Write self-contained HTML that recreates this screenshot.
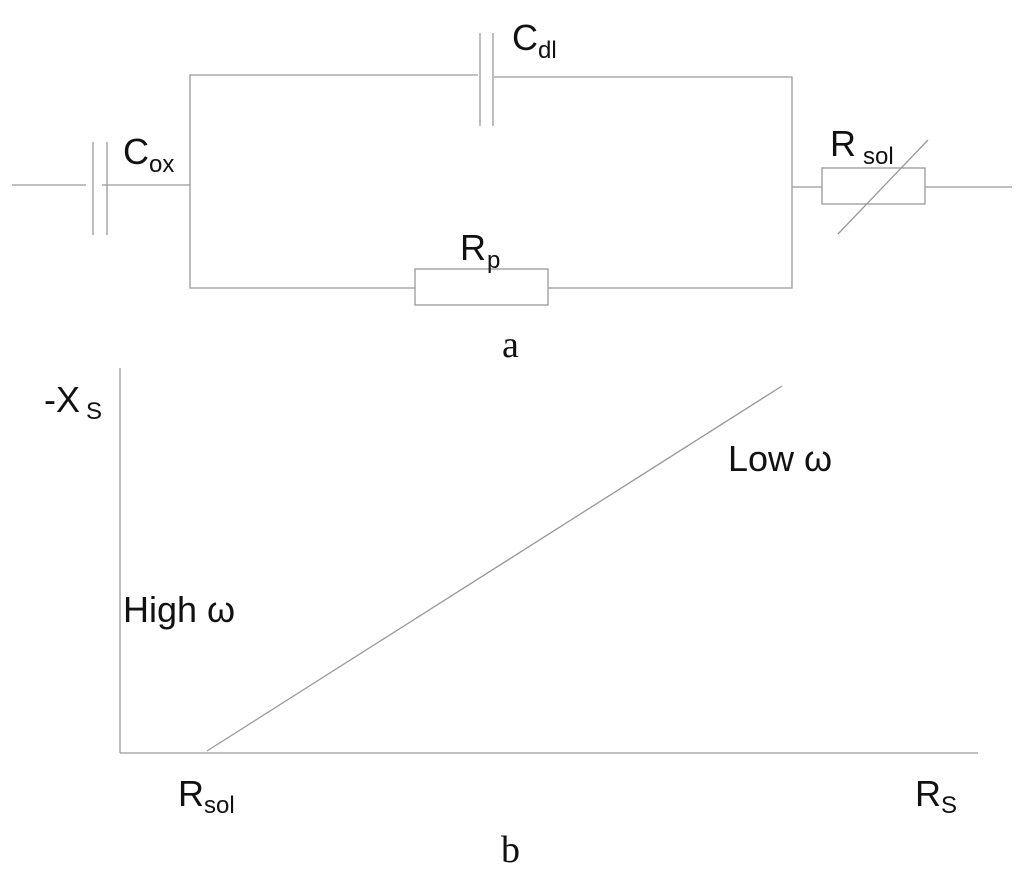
<!DOCTYPE html>
<html><head><style>body{margin:0;background:#fff}svg{display:block}</style></head>
<body>
<svg width="1024" height="880" viewBox="0 0 1024 880" xmlns="http://www.w3.org/2000/svg">
<g stroke="#999" stroke-width="1.3" fill="none">
<line x1="12" y1="185" x2="86" y2="185"/>
<line x1="93" y1="142" x2="93" y2="235"/>
<line x1="107" y1="142" x2="107" y2="235"/>
<line x1="102" y1="185" x2="190" y2="185"/>
<polyline points="478,75 190,75 190,288 415,288"/>
<line x1="480" y1="33" x2="480" y2="126"/>
<line x1="493" y1="33" x2="493" y2="126"/>
<polyline points="494,77 792,77 792,288 548,288"/>
<rect x="415" y="269" width="133" height="36"/>
<line x1="792" y1="187" x2="822" y2="187"/>
<rect x="822" y="168" width="103" height="36"/>
<line x1="925" y1="187" x2="1012" y2="187"/>
<line x1="838" y1="234" x2="928" y2="140"/>
<line x1="120" y1="368" x2="120" y2="753"/>
<line x1="120" y1="753" x2="978" y2="753"/>
<line x1="207" y1="751" x2="782" y2="386"/>
</g>
<g font-family="Liberation Sans, sans-serif" fill="#111">
<text x="123" y="164" font-size="36">C</text><text x="149" y="172" font-size="24">ox</text>
<text x="512" y="50" font-size="36">C</text><text x="538" y="58" font-size="24">dl</text>
<text x="460" y="260" font-size="36">R</text><text x="487" y="268" font-size="24">p</text>
<text x="830" y="156" font-size="36">R</text><text x="863" y="164" font-size="24">sol</text>
<text x="44" y="412" font-size="36">-X</text><text x="86" y="419" font-size="24">S</text>
<text x="123" y="622" font-size="36">High ω</text>
<text x="728" y="471" font-size="36">Low ω</text>
<text x="178" y="806" font-size="36">R</text><text x="204" y="813" font-size="24">sol</text>
<text x="915" y="806" font-size="36">R</text><text x="941" y="813" font-size="24">S</text>
</g>
<g font-family="Liberation Serif, serif" fill="#111" font-size="38">
<text x="502" y="357">a</text>
<text x="501" y="862">b</text>
</g>
</svg>
</body></html>
